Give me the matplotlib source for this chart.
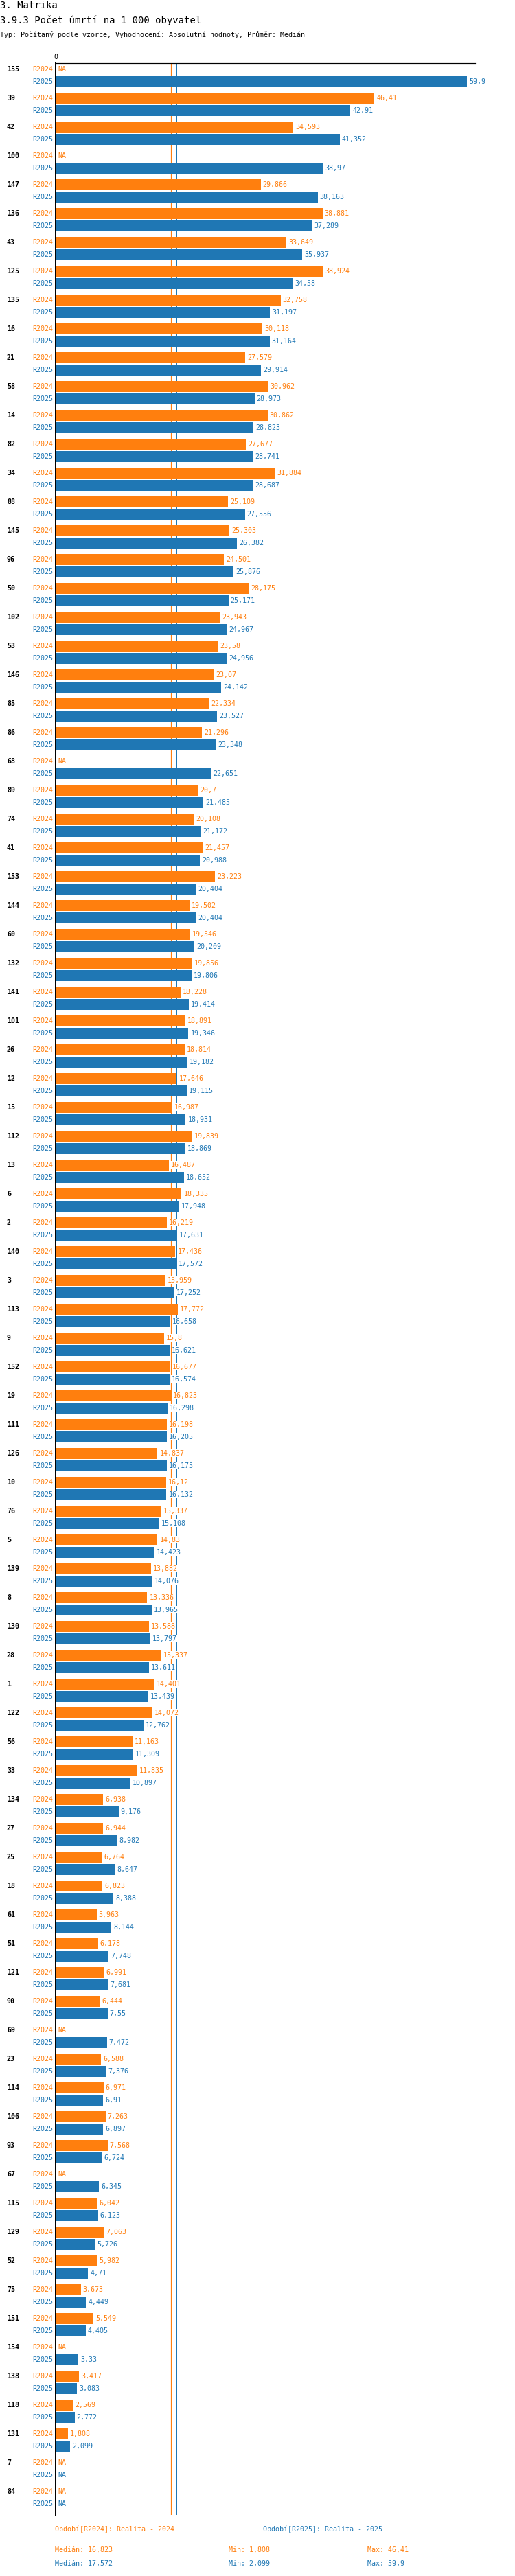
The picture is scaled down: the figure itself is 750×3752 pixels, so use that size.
import numpy as np
from matplotlib import pyplot as plt

groups = ["155", "39", "42", "100", "147", "136", "43", "125", "135", "16",
          "21", "58", "14", "82", "34", "88", "145", "96", "50", "102",
          "53", "146", "85", "86", "68", "89", "74", "41", "153", "144",
          "60", "132", "141", "101", "26", "12", "15", "112", "13", "6",
          "2", "140", "3", "113", "9", "152", "19", "111", "126", "10",
          "76", "5", "139", "8", "130", "28", "1", "122", "56", "33",
          "134", "27", "25", "18", "61", "51", "121", "90", "69", "23",
          "114", "106", "93", "67", "115", "129", "52", "75", "151", "154",
          "138", "118", "131", "7", "84"]
nan = np.nan
r2024 = [nan, 46.41, 34.593, nan, 29.866, 38.881, 33.649, 38.924, 32.758, 30.118,
         27.579, 30.962, 30.862, 27.677, 31.884, 25.109, 25.303, 24.501, 28.175, 23.943,
         23.58, 23.07, 22.334, 21.296, nan, 20.7, 20.108, 21.457, 23.223, 19.502,
         19.546, 19.856, 18.228, 18.891, 18.814, 17.646, 16.987, 19.839, 16.487, 18.335,
         16.219, 17.436, 15.959, 17.772, 15.8, 16.677, 16.823, 16.198, 14.837, 16.12,
         15.337, 14.83, 13.882, 13.336, 13.588, 15.337, 14.401, 14.072, 11.163, 11.835,
         6.938, 6.944, 6.764, 6.823, 5.963, 6.178, 6.991, 6.444, nan, 6.588,
         6.971, 7.263, 7.568, nan, 6.042, 7.063, 5.982, 3.673, 5.549, nan,
         3.417, 2.569, 1.808, nan, nan]
r2025 = [59.9, 42.91, 41.352, 38.97, 38.163, 37.289, 35.937, 34.58, 31.197, 31.164,
         29.914, 28.973, 28.823, 28.741, 28.687, 27.556, 26.382, 25.876, 25.171, 24.967,
         24.956, 24.142, 23.527, 23.348, 22.651, 21.485, 21.172, 20.988, 20.404, 20.404,
         20.209, 19.806, 19.414, 19.346, 19.182, 19.115, 18.931, 18.869, 18.652, 17.948,
         17.631, 17.572, 17.252, 16.658, 16.621, 16.574, 16.298, 16.205, 16.175, 16.132,
         15.108, 14.423, 14.076, 13.965, 13.797, 13.611, 13.439, 12.762, 11.309, 10.897,
         9.176, 8.982, 8.647, 8.388, 8.144, 7.748, 7.681, 7.55, 7.472, 7.376,
         6.91, 6.897, 6.724, 6.345, 6.123, 5.726, 4.71, 4.449, 4.405, 3.33,
         3.083, 2.772, 2.099, nan, nan]

ORANGE = "#ff7f0e"
BLUE = "#1f77b4"
W, H = 750, 3752
plt.rcParams['font.family'] = ['DejaVu Sans Mono', 'DejaVu Sans']

fig = plt.figure(figsize=(W / 72, H / 72), dpi=72)
# axes: x from 81px to 692px, y from 92px to 3663px
ax = fig.add_axes([81 / W, 1 - 3663 / H, (692 - 81) / W, (3663 - 92) / H])
ax.set_xlim(0, 61.1)
ax.set_ylim((3663 - 110) / 42, (92 - 110) / 42)
for s in ["right", "bottom"]:
    ax.spines[s].set_visible(False)
ax.spines["left"].set_linewidth(2)
ax.spines["top"].set_linewidth(1.2)
ax.set_xticks([0])
ax.set_yticks([])
ax.xaxis.tick_top()
ax.tick_params(axis="x", length=0, labelsize=10, pad=4)

a = np.array(r2024, dtype=float)
b = np.array(r2025, dtype=float)
y = np.arange(len(groups))
off = 9 / 42
h = 16 / 42

med_a = np.nanmedian(a)
med_b = np.nanmedian(b)
ax.axvline(med_a, color=ORANGE, lw=1.2, zorder=1)
ax.axvline(med_b, color=BLUE, lw=1.0, zorder=1)

ax.barh(y - off, np.nan_to_num(a), height=h, color=ORANGE, zorder=2)
ax.barh(y + off, np.nan_to_num(b), height=h, color=BLUE, zorder=2)

def fmt(v):
    return "NA" if np.isnan(v) else ("%g" % v).replace(".", ",")

for i, g in enumerate(groups):
    ax.annotate(g, (0, i - off), xycoords=("axes fraction", "data"), xytext=(-71, 0),
                textcoords="offset points", ha="left", va="center", fontsize=10,
                fontweight="bold", color="black", annotation_clip=False)
    for yy, v, c, lab in [(i - off, a[i], ORANGE, "R2024"), (i + off, b[i], BLUE, "R2025")]:
        ax.annotate(lab, (0, yy), xycoords=("axes fraction", "data"), xytext=(-4, 0),
                    textcoords="offset points", ha="right", va="center", fontsize=10,
                    color=c, annotation_clip=False)
        x0 = 0 if np.isnan(v) else v
        ax.annotate(fmt(v), (x0, yy), xytext=(3, 0), textcoords="offset points",
                    ha="left", va="center", fontsize=10, color=c, zorder=4,
                    bbox=dict(boxstyle="square,pad=0.05", fc="white", ec="none"))

fig.text(0, 1 - 8 / H, "3. Matrika", fontsize=14, va="center")
fig.text(0, 1 - 30 / H, "3.9.3 Počet úmrtí na 1 000 obyvatel", fontsize=14, va="center")
fig.text(0, 1 - 51 / H, "Typ: Počítaný podle vzorce, Vyhodnocení: Absolutní hodnoty, Průměr: Medián",
         fontsize=10, va="center")

fig.text(80 / W, 1 - 3684 / H, "Období[R2024]: Realita - 2024", color=ORANGE, fontsize=10, va="center")
fig.text(383 / W, 1 - 3684 / H, "Období[R2025]: Realita - 2025", color=BLUE, fontsize=10, va="center")
for yy, arr, c in [(3714, a, ORANGE), (3734, b, BLUE)]:
    fig.text(80 / W, 1 - yy / H, "Medián: " + fmt(np.nanmedian(arr)), color=c, fontsize=10, va="center")
    fig.text(333 / W, 1 - yy / H, "Min: " + fmt(np.nanmin(arr)), color=c, fontsize=10, va="center")
    fig.text(535 / W, 1 - yy / H, "Max: " + fmt(np.nanmax(arr)), color=c, fontsize=10, va="center")

fig.savefig("out.png", dpi=72)
